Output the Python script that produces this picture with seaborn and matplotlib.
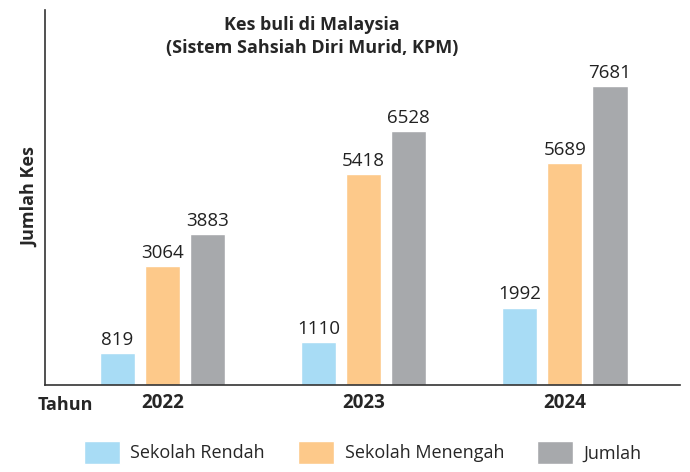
import seaborn as sns
import matplotlib.pyplot as plt
import pandas as pd

years = ["2022", "2023", "2024"]
categories = ["Sekolah Rendah", "Sekolah Menengah", "Jumlah"]
rendah = [819, 1110, 1992]
menengah = [3064, 5418, 5689]
jumlah = [3883, 6528, 7681]
colors = ["#a8dcf5", "#fdc98a", "#a7a9ac"]

df = pd.DataFrame({
    "year": years * 3,
    "kategori": [categories[0]] * 3 + [categories[1]] * 3 + [categories[2]] * 3,
    "kes": rendah + menengah + jumlah,
})

sns.set_style("white")
plt.rcParams["font.family"] = ["Open Sans", "DejaVu Sans"]

fig = plt.figure(figsize=(6.9, 4.72), dpi=100)
ax = fig.add_axes([0.065, 0.184, 0.921, 0.795])

sns.barplot(data=df, x="year", y="kes", hue="kategori", palette=colors,
            saturation=1, width=0.675, gap=0.22, ax=ax, legend=True)

for c in ax.containers:
    ax.bar_label(c, fontsize=13.5, padding=3, color="#222222")

ax.set_ylim(0, 9630)
ax.set_xlim(-0.585, 2.575)
ax.set_yticks([])
ax.set_xlabel(None)
ax.set_ylabel("Jumlah Kes", fontsize=13, fontweight="bold", labelpad=4)
ax.tick_params(axis="x", length=0, labelsize=13.5, pad=6)
for lbl in ax.get_xticklabels():
    lbl.set_fontweight("bold")
for s in ["top", "right"]:
    ax.spines[s].set_visible(False)
for s in ["left", "bottom"]:
    ax.spines[s].set_color("#333333")
    ax.spines[s].set_linewidth(1.2)

ax.text(0.42, 0.985, "Kes buli di Malaysia\n(Sistem Sahsiah Diri Murid, KPM)",
        transform=ax.transAxes, ha="center", va="top", fontsize=13,
        fontweight="bold", linespacing=1.4)
fig.text(0.055, 0.143, "Tahun", fontsize=13, fontweight="bold", va="center")

ax.legend(loc="upper center", bbox_to_anchor=(0.5, -0.105), ncol=3, frameon=False,
          fontsize=13, handlelength=2.0, handleheight=1.6, columnspacing=1.8,
          handletextpad=0.6)

fig.savefig("out.png", dpi=100)
